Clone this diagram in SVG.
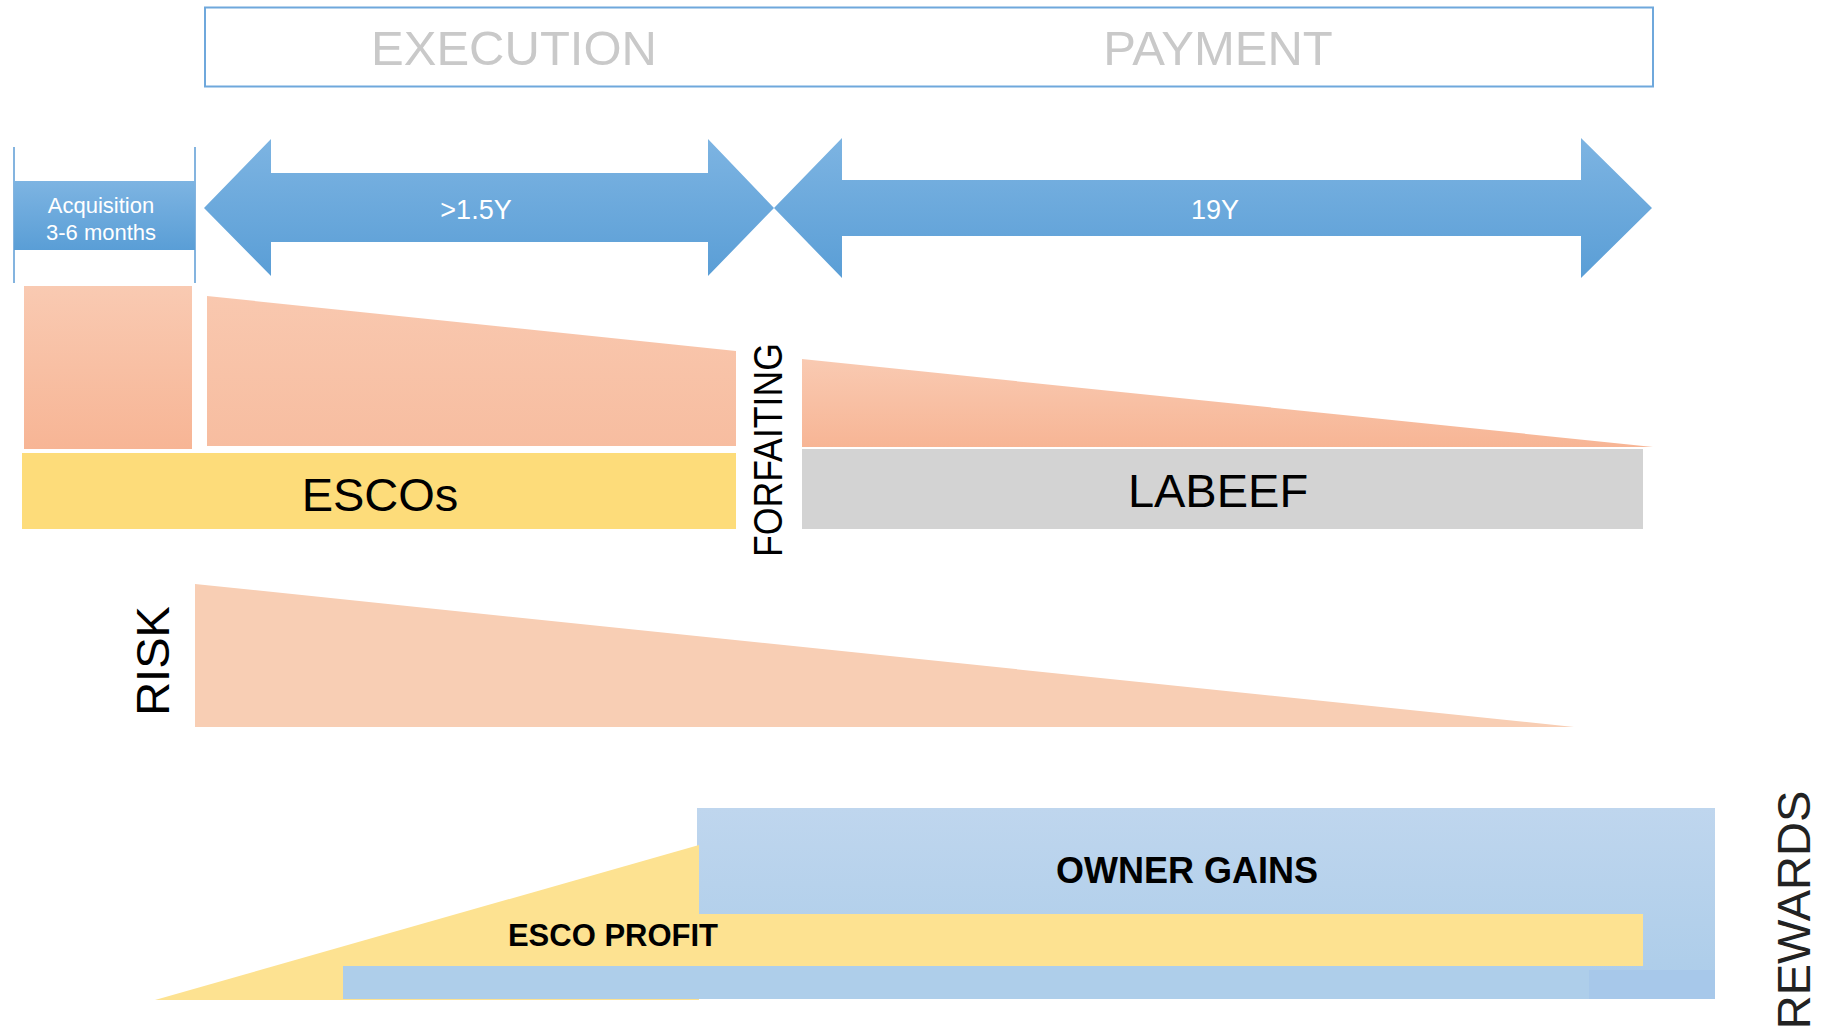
<svg xmlns="http://www.w3.org/2000/svg" width="1823" height="1036" viewBox="0 0 1823 1036">
<defs>
<linearGradient id="gBlue" x1="0" y1="0" x2="0" y2="1"><stop offset="0" stop-color="#7DB4E2"/><stop offset="1" stop-color="#5A9ED6"/></linearGradient>
<linearGradient id="gPeach" x1="0" y1="0" x2="0" y2="1"><stop offset="0" stop-color="#F9CAB2"/><stop offset="1" stop-color="#F7B595"/></linearGradient>
<linearGradient id="gPeach2" x1="0" y1="0" x2="0" y2="1"><stop offset="0" stop-color="#F9C8AF"/><stop offset="1" stop-color="#F7BDA0"/></linearGradient>
<linearGradient id="gOwner" x1="0" y1="0" x2="0" y2="1"><stop offset="0" stop-color="#BFD6EE"/><stop offset="1" stop-color="#ABCCE9"/></linearGradient>
<style>
.lbl{font-family:"Liberation Sans",Arial,sans-serif;}
.hdr{font-size:49px;fill:#C9C9C9;text-anchor:middle;}
.wht{fill:#FFFFFF;text-anchor:middle;}
.blk{fill:#000000;text-anchor:middle;}
</style>
</defs>

<g id="phases">
<rect x="205" y="7.5" width="1448" height="79" fill="none" stroke="#6FA8DC" stroke-width="2"/>
<text class="lbl hdr" x="514" y="65">EXECUTION</text>
<text class="lbl hdr" x="1218" y="65">PAYMENT</text>
</g>

<g id="acquisition">
<line x1="14" y1="147" x2="14" y2="283" stroke="#5B9BD5" stroke-width="1.5"/>
<line x1="195" y1="147" x2="195" y2="283" stroke="#5B9BD5" stroke-width="1.5"/>
<rect x="14" y="181" width="181" height="69" fill="url(#gBlue)"/>
<text class="lbl wht" x="101" y="213" font-size="22">Acquisition</text>
<text class="lbl wht" x="101" y="240" font-size="22">3-6 months</text>
</g>

<g id="arrow-execution">
<polygon points="204,208 271,139 271,173 708,173 708,139 774,208 708,276 708,242 271,242 271,276" fill="url(#gBlue)"/>
<text class="lbl wht" x="476" y="219" font-size="27">&gt;1.5Y</text>
</g>

<g id="arrow-payment">
<polygon points="774,208 842,138 842,180 1581,180 1581,138 1652,208 1581,278 1581,236 842,236 842,278" fill="url(#gBlue)"/>
<text class="lbl wht" x="1215" y="219" font-size="27">19Y</text>
</g>

<g id="risk-top">
<rect x="24" y="286" width="168" height="163" fill="url(#gPeach)"/>
<polygon points="207,296 736,351 736,446 207,446" fill="url(#gPeach2)"/>
<polygon points="802,359 1653,447 802,447" fill="url(#gPeach)"/>
</g>

<g id="escos">
<rect x="22" y="453" width="714" height="76" fill="#FDDC7A"/>
<text class="lbl blk" x="380" y="511" font-size="47">ESCOs</text>
</g>

<g id="forfaiting">
<text class="lbl blk" transform="translate(782,450) rotate(-90)" x="0" y="0" font-size="40" textLength="214" lengthAdjust="spacingAndGlyphs">FORFAITING</text>
</g>

<g id="labeef">
<rect x="802" y="449" width="841" height="80" fill="#D3D3D3"/>
<text class="lbl blk" x="1218" y="507" font-size="47">LABEEF</text>
</g>

<g id="risk">
<text class="lbl blk" transform="translate(169,661) rotate(-90)" x="0" y="0" font-size="47">RISK</text>
<polygon points="195,584 1574,727 195,727" fill="#F8CEB4"/>
</g>

<g id="rewards">
<rect x="697" y="808" width="1018" height="191" fill="url(#gOwner)"/>
<polygon points="155,1000 699,845 699,1000" fill="#FDE291"/>
<rect x="699" y="914" width="944" height="52" fill="#FDE291"/>
<rect x="343" y="966" width="1246" height="33" fill="#AECEEA"/>
<rect x="1589" y="970" width="126" height="29" fill="#A7C8EA"/>
<text class="lbl blk" x="1187" y="883" font-size="36" font-weight="bold">OWNER GAINS</text>
<text class="lbl blk" x="613" y="946" font-size="31" font-weight="bold">ESCO PROFIT</text>
<text class="lbl" transform="translate(1810,910) rotate(-90)" x="0" y="0" font-size="47" fill="#222222" text-anchor="middle">REWARDS</text>
</g>
</svg>
